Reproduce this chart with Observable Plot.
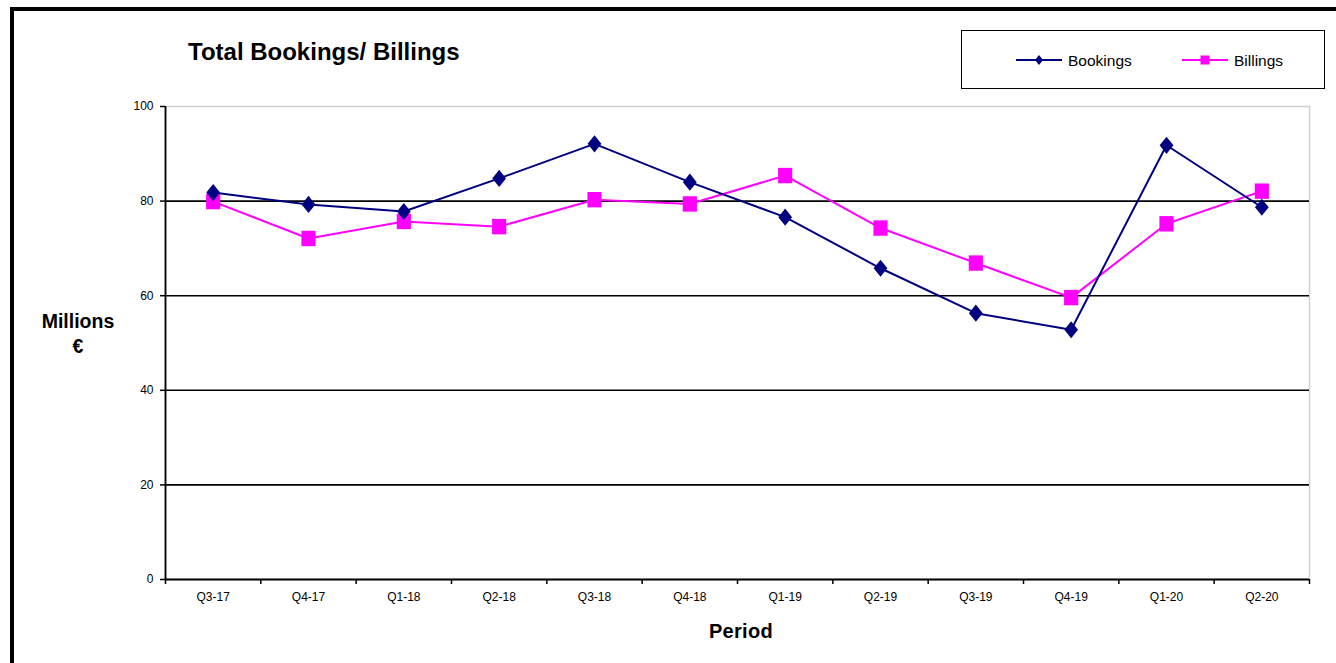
<!DOCTYPE html>
<html>
<head>
<meta charset="utf-8">
<script src="https://cdn.jsdelivr.net/npm/d3@7"></script>
<script src="https://cdn.jsdelivr.net/npm/@observablehq/plot@0.6"></script>
<style>
  html, body { margin: 0; padding: 0; background: #fff; }
  #wrap { position: relative; width: 1336px; height: 663px; overflow: hidden; font-family: "Liberation Sans", Arial, sans-serif; background: #fff; }
  #frame { position: absolute; left: 10px; top: 7px; width: 1400px; height: 700px; border: 4px solid #000; box-sizing: border-box; pointer-events: none; z-index: 5; }
  #chart { position: absolute; left: 0; top: 0; }
  .lbl { position: absolute; color: #000; font-weight: bold; white-space: nowrap; z-index: 4; }
  #title { left: 188px; top: 38px; font-size: 24px; }
  #ylab { left: 28px; top: 309px; width: 100px; text-align: center; font-size: 19.5px; line-height: 25px; }
  #xlab { left: 691px; top: 620px; width: 100px; text-align: center; font-size: 20px; letter-spacing: 0.3px; }
  #legend { position: absolute; left: 961px; top: 30px; width: 364px; height: 59px; border: 1.5px solid #000; box-sizing: border-box; background: #fff; z-index: 4; }
</style>
</head>
<body>
<div id="wrap">
  <div id="chart"></div>
  <div id="title" class="lbl">Total Bookings/ Billings</div>
  <div id="ylab" class="lbl">Millions<br>€</div>
  <div id="xlab" class="lbl">Period</div>
  <div id="legend"></div>
  <div id="frame"></div>
</div>
<script>
// ---- data ----
const categories = ["Q3-17","Q4-17","Q1-18","Q2-18","Q3-18","Q4-18","Q1-19","Q2-19","Q3-19","Q4-19","Q1-20","Q2-20"];
const bookings = [81.8, 79.3, 77.8, 84.8, 92.1, 84.0, 76.6, 65.8, 56.3, 52.8, 91.8, 78.7];
const billings = [79.9, 72.1, 75.7, 74.6, 80.3, 79.4, 85.4, 74.3, 66.9, 59.6, 75.2, 82.1];
const yTicks = [0, 20, 40, 60, 80, 100];
const seriesNames = ["Bookings", "Billings"];
const colors = ["#000080", "#FF00FF"];

// ---- derived tables ----
const rowsB = categories.map((c, i) => ({i, period: c, v: bookings[i]}));
const rowsL = categories.map((c, i) => ({i, period: c, v: billings[i]}));
const xDomain = [-0.5, categories.length - 0.5];
const separators = d3.range(categories.length + 1).map(k => k - 0.5);

// custom symbols
const diamondSym = { draw(ctx, size) { const h = Math.sqrt(size / Math.PI); const w = h * 0.8;
  ctx.moveTo(0, -h); ctx.lineTo(w, 0); ctx.lineTo(0, h); ctx.lineTo(-w, 0); ctx.closePath(); } };
const squareSym = { draw(ctx, size) { const h = Math.sqrt(size / Math.PI); const w = h * 0.92;
  ctx.rect(-w, -h, 2 * w, 2 * h); } };

const chart = Plot.plot({
  width: 1336,
  height: 663,
  marginLeft: 165,
  marginRight: 27,
  marginTop: 106,
  marginBottom: 84,
  style: { background: "transparent", fontFamily: "'Liberation Sans', Arial, sans-serif", color: "#000" },
  x: { type: "linear", domain: xDomain, axis: null },
  y: { domain: [0, 100], axis: null },
  marks: [
    Plot.frame({ stroke: "#d0d0d0", strokeWidth: 1.5 }),
    Plot.ruleY([20, 40, 60, 80], { stroke: "#000", strokeWidth: 1.6 }),
    Plot.ruleY([0], { stroke: "#000", strokeWidth: 1.8 }),
    Plot.ruleX([xDomain[0]], { stroke: "#000", strokeWidth: 1.8 }),
    Plot.axisY({ ticks: yTicks, tickSize: 5, tickPadding: 7, fontSize: 12, label: null, stroke: "#000", strokeWidth: 1.5 }),
    Plot.axisX({ ticks: separators, tickSize: 5, tickFormat: () => "", label: null, stroke: "#000", strokeWidth: 1.5 }),
    Plot.axisX({ ticks: d3.range(categories.length), tickSize: 0, tickPadding: 13, tickFormat: i => categories[i], fontSize: 12, label: null }),
    Plot.line(rowsL, { x: "i", y: "v", stroke: colors[1], strokeWidth: 2 }),
    Plot.line(rowsB, { x: "i", y: "v", stroke: colors[0], strokeWidth: 2 }),
    Plot.dot(rowsL, { x: "i", y: "v", symbol: squareSym, r: 7.7, fill: colors[1], stroke: "none" }),
    Plot.dot(rowsB, { x: "i", y: "v", symbol: diamondSym, r: 8.6, fill: colors[0], stroke: "none" })
  ]
});
document.getElementById("chart").appendChild(chart);

// ---- legend ----
const leg = d3.select("#legend").append("svg").attr("width", 361).attr("height", 56);
const items = [
  { name: seriesNames[0], color: colors[0], x: 54, shape: "diamond" },
  { name: seriesNames[1], color: colors[1], x: 220, shape: "square" }
];
items.forEach(it => {
  const g = leg.append("g").attr("transform", `translate(${it.x},29)`);
  g.append("line").attr("x1", 0).attr("x2", 46).attr("stroke", it.color).attr("stroke-width", 2);
  if (it.shape === "diamond") {
    g.append("path").attr("d", "M23,-5 L27,0 L23,5 L19,0 Z").attr("fill", it.color);
  } else {
    g.append("rect").attr("x", 18.5).attr("y", -4.5).attr("width", 9).attr("height", 9).attr("fill", it.color);
  }
  g.append("text").attr("x", 52).attr("y", 6).attr("font-size", 15.5)
    .attr("font-family", "'Liberation Sans', Arial, sans-serif").attr("fill", "#000").text(it.name);
});
</script>
</body>
</html>
